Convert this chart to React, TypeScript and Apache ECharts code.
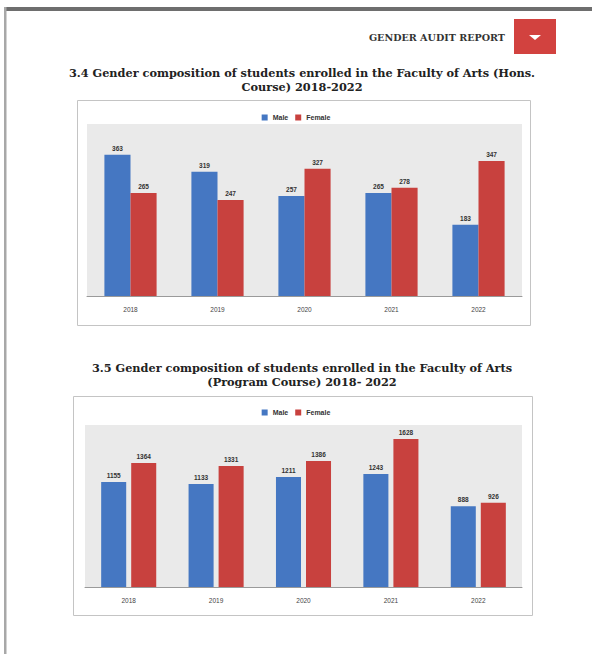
import React, { useEffect, useRef } from "react";
import * as echarts from "echarts";

const years = ["2018", "2019", "2020", "2021", "2022"];
const seriesNames = ["Male", "Female"];
const honsMale = [363, 319, 257, 265, 183];
const honsFemale = [265, 247, 327, 278, 347];
const progMale = [1155, 1133, 1211, 1243, 888];
const progFemale = [1364, 1331, 1386, 1628, 926];
const headerText = "GENDER AUDIT REPORT";
const title1 = [
  "3.4 Gender composition of students enrolled in the Faculty of Arts (Hons.",
  "Course) 2018-2022",
];
const title2 = [
  "3.5 Gender composition of students enrolled in the Faculty of Arts",
  "(Program Course) 2018- 2022",
];

const BLUE = "#4577c2";
const RED = "#c8413e";

export default function App() {
  const ref = useRef<HTMLDivElement>(null);
  useEffect(() => {
    if (!ref.current) return;
    const chart = echarts.init(ref.current, null, { renderer: "svg" });
    const serif = "DejaVu Serif";
    const labelStyle = {
      show: true,
      position: "top",
      fontSize: 6.5,
      fontWeight: "bold",
      color: "#333",
      fontFamily: "Liberation Sans",
      distance: 3,
    };
    const titleText = (lines: string[], y: number) =>
      lines.map((t, i) => ({
        type: "text",
        x: 302,
        y: y + i * 14,
        style: {
          text: t,
          fontFamily: serif,
          fontWeight: "bold",
          fontSize: 11.3,
          fill: "#222",
          textAlign: "center",
          textVerticalAlign: "middle",
        },
      }));
    const legendBase = {
      data: seriesNames,
      left: "center",
      itemWidth: 6,
      itemHeight: 6,
      itemGap: 7,
      icon: "rect",
      textStyle: { fontSize: 7, fontWeight: "bold", color: "#333" },
    };
    chart.setOption({
      animation: false,
      backgroundColor: "#ffffff",
      color: [BLUE, RED],
      legend: [
        { ...legendBase, top: 109 },
        { ...legendBase, top: 404 },
      ],
      graphic: [
        { type: "rect", shape: { x: 4, y: 7, width: 600, height: 4 }, style: { fill: "#6e6e6e" } },
        { type: "rect", shape: { x: 4, y: 7, width: 2.5, height: 660 }, style: { fill: "#a8a8a8" } },
        {
          type: "text",
          x: 505,
          y: 37,
          style: {
            text: headerText,
            fontFamily: serif,
            fontWeight: "bold",
            fontSize: 9.6,
            fill: "#333",
            textAlign: "right",
            textVerticalAlign: "middle",
          },
        },
        { type: "rect", shape: { x: 514, y: 19, width: 42, height: 35 }, style: { fill: "#d2423f" } },
        {
          type: "polygon",
          shape: { points: [[529, 35], [541, 35], [535, 40]] },
          style: { fill: "#ffffff" },
        },
        ...titleText(title1, 73),
        ...titleText(title2, 368),
        {
          type: "rect",
          z: -10,
          shape: { x: 77.5, y: 100.5, width: 453, height: 225 },
          style: { fill: "#ffffff", stroke: "#c4c4c4", lineWidth: 1 },
        },
        {
          type: "rect",
          z: -10,
          shape: { x: 73.5, y: 396.5, width: 459, height: 219 },
          style: { fill: "#ffffff", stroke: "#c4c4c4", lineWidth: 1 },
        },
      ],
      grid: [
        {
          left: 87,
          top: 124,
          width: 435,
          height: 172,
          show: true,
          backgroundColor: "#eaeaea",
          borderWidth: 0,
        },
        {
          left: 85,
          top: 425,
          width: 437,
          height: 162,
          show: true,
          backgroundColor: "#eaeaea",
          borderWidth: 0,
        },
      ],
      xAxis: [0, 1].map((i) => ({
        type: "category",
        gridIndex: i,
        data: years,
        axisLine: { lineStyle: { color: "#9a9a9a", width: 1 } },
        axisTick: { show: false },
        axisLabel: { fontSize: 6.5, color: "#444", margin: 10 },
      })),
      yAxis: [
        { type: "value", gridIndex: 0, min: 0, max: 442, show: false, splitLine: { show: false } },
        { type: "value", gridIndex: 1, min: 0, max: 1782, show: false, splitLine: { show: false } },
      ],
      series: [
        {
          name: "Male",
          type: "bar",
          xAxisIndex: 0,
          yAxisIndex: 0,
          data: honsMale,
          barGap: "0%",
          barCategoryGap: "40%",
          itemStyle: { color: BLUE },
          label: labelStyle,
        },
        {
          name: "Female",
          type: "bar",
          xAxisIndex: 0,
          yAxisIndex: 0,
          data: honsFemale,
          barGap: "0%",
          barCategoryGap: "40%",
          itemStyle: { color: RED },
          label: labelStyle,
        },
        {
          name: "Male",
          type: "bar",
          xAxisIndex: 1,
          yAxisIndex: 1,
          data: progMale,
          barGap: "20%",
          barCategoryGap: "37%",
          itemStyle: { color: BLUE },
          label: labelStyle,
        },
        {
          name: "Female",
          type: "bar",
          xAxisIndex: 1,
          yAxisIndex: 1,
          data: progFemale,
          barGap: "20%",
          barCategoryGap: "37%",
          itemStyle: { color: RED },
          label: labelStyle,
        },
      ],
    });
    return () => chart.dispose();
  }, []);
  return (
    <div
      ref={ref}
      style={{ position: "fixed", left: 0, top: 0, width: 592, height: 654 }}
    />
  );
}
